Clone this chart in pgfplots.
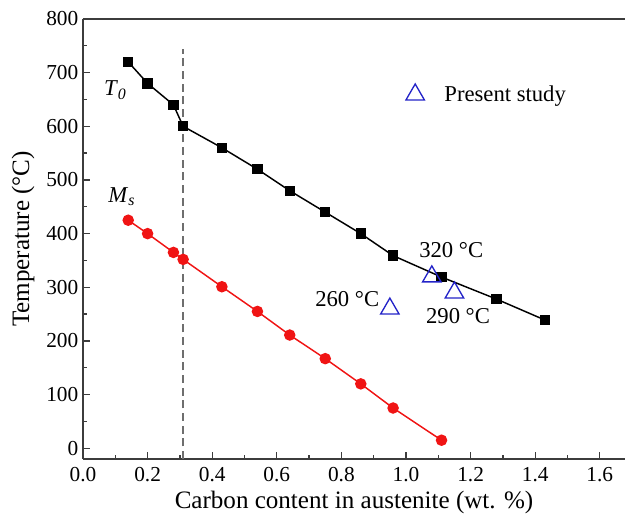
\documentclass[border=0pt]{standalone}
\usepackage{fontspec}
\setmainfont{Liberation Serif}
\usepackage{pgfplots}
\pgfplotsset{compat=1.18}

\definecolor{tnull}{RGB}{0,0,0}
\definecolor{msred}{RGB}{240,20,20}
\definecolor{studyblue}{RGB}{35,35,200}
\definecolor{guide}{RGB}{110,110,110}
\definecolor{frame}{RGB}{60,60,60}

\begin{document}
\begin{tikzpicture}
\path[use as bounding box] (-62.25pt,-48pt) rectangle (406.5pt,344.25pt);
\begin{axis}[
  at={(0,0)}, anchor=south west,
  scale only axis, width=406.5pt, height=330pt,
  xmin=0, xmax=1.678, ymin=-20, ymax=800,
  axis x line*=bottom, axis y line*=left,
  axis line style={-, frame, line width=1.2pt},
  xtick={0,0.2,...,1.6}, ytick={0,100,...,800},
  minor x tick num=1, minor y tick num=1,
  tick align=inside,
  major tick length=5.5pt, minor tick length=3pt,
  tick style={frame, line width=1pt},
  xticklabel={\pgfmathprintnumber[fixed, fixed zerofill, precision=1, assume math mode=true]{\tick}},
  yticklabel={\pgfmathprintnumber[fixed, assume math mode=true]{\tick}},
  tick label style={font=\rmfamily\fontsize{16}{18}\selectfont},
  xticklabel style={yshift=-3pt},
  label style={font=\fontsize{18.8}{21}\selectfont},
  xlabel={Carbon content in austenite (wt. \%)},
  ylabel={Temperature (°C)},
  ylabel style={yshift=2pt},
  legend style={at={(axis cs:0.980,659)}, anchor=west, draw=none, fill=none,
    font=\fontsize{17}{19}\selectfont},
  legend image code/.code={\path[draw=none] (0cm,0cm) -- (1.0cm,0cm);
    \draw[#1] plot[only marks] coordinates {(0.3cm,0cm)};},
  clip=false,
]
\draw[frame, line width=1.2pt] (rel axis cs:0,1) -- (rel axis cs:1,1);
\draw[guide, line width=1pt, dash pattern=on 6pt off 3.5pt] (axis cs:0.31,-20) -- (axis cs:0.31,745);

% T0 curve
\addplot[tnull, line width=1.1pt, mark=square*, mark size=3.3pt, forget plot]
  coordinates {(0.14,720) (0.20,680) (0.28,640) (0.31,600) (0.43,560) (0.54,520)
    (0.64,480) (0.75,440) (0.86,400) (0.96,359) (1.11,319) (1.28,278) (1.43,239)};

% Ms curve
\addplot[msred, line width=1.1pt, mark=*, mark size=3.75pt, forget plot]
  coordinates {(0.14,425) (0.20,400) (0.28,365) (0.31,352) (0.43,301) (0.54,255)
    (0.64,211) (0.75,167) (0.86,120) (0.96,75) (1.11,15)};

% present study
\addplot[only marks, studyblue, mark=triangle, mark size=8pt, mark options={line width=1pt}]
  coordinates {(1.08,320) (1.15,290) (0.95,260)};
\addlegendentry{Present study}

\node[font=\fontsize{17}{19}\selectfont] at (axis cs:0.100,667) {\textit{T}\textsubscript{\textit{0}}};
\node[font=\fontsize{17}{19}\selectfont] at (axis cs:0.120,469) {\textit{M}\textsubscript{\textit{s}}};
\node[font=\fontsize{17}{19}\selectfont] at (axis cs:1.140,370) {320 °C};
\node[font=\fontsize{17}{19}\selectfont] at (axis cs:0.818,278) {260 °C};
\node[font=\fontsize{17}{19}\selectfont] at (axis cs:1.161,247) {290 °C};
\end{axis}
\end{tikzpicture}
\end{document}
